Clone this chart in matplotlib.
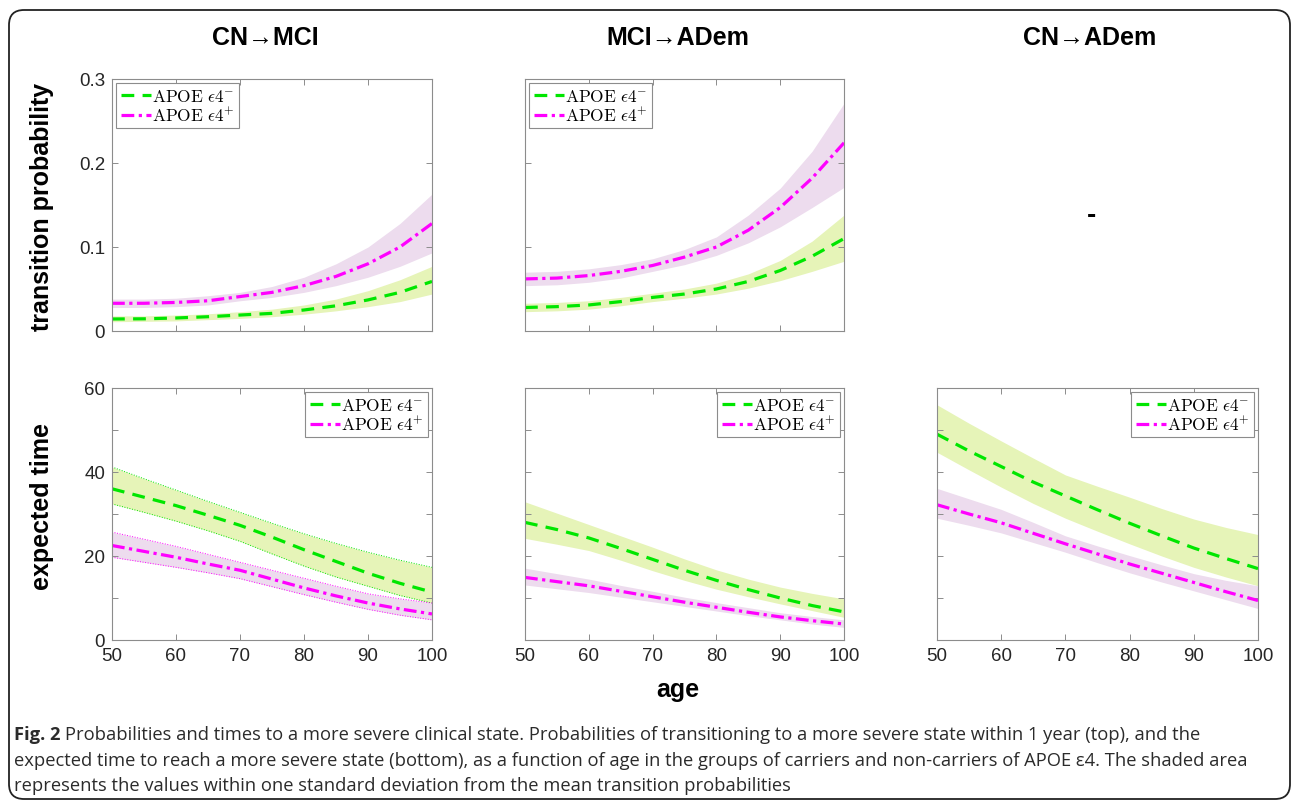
"""
Fig. 2: transition probabilities and expected times (APOE e4 carriers / non-carriers)
"""

import numpy as np
import matplotlib
matplotlib.use("Agg")
import matplotlib.pyplot as plt
from matplotlib.patches import FancyBboxPatch
from matplotlib.text import Annotation
from matplotlib.ticker import MultipleLocator

plt.rcParams["mathtext.fontset"] = "cm"
plt.rcParams["font.family"] = ["Liberation Sans", "DejaVu Sans"]

ages = [50, 55, 60, 65, 70, 75, 80, 85, 90, 95, 100]

# --- top row: 1-year transition probability ---
cn_mci_p_neg = [0.0143, 0.0145, 0.0155, 0.017, 0.019, 0.021, 0.025, 0.030, 0.037, 0.046, 0.059]
cn_mci_p_neg_lo = [0.011, 0.0115, 0.012, 0.0135, 0.015, 0.017, 0.020, 0.024, 0.029, 0.035, 0.044]
cn_mci_p_neg_hi = [0.018, 0.018, 0.019, 0.0205, 0.023, 0.026, 0.031, 0.038, 0.048, 0.061, 0.077]
cn_mci_p_pos = [0.033, 0.033, 0.034, 0.036, 0.041, 0.046, 0.054, 0.065, 0.080, 0.100, 0.128]
cn_mci_p_pos_lo = [0.028, 0.028, 0.029, 0.031, 0.036, 0.040, 0.046, 0.054, 0.064, 0.077, 0.093]
cn_mci_p_pos_hi = [0.038, 0.038, 0.039, 0.042, 0.046, 0.053, 0.064, 0.080, 0.100, 0.128, 0.163]

mci_ad_p_neg = [0.028, 0.029, 0.031, 0.035, 0.040, 0.044, 0.050, 0.059, 0.072, 0.089, 0.110]
mci_ad_p_neg_lo = [0.023, 0.024, 0.026, 0.030, 0.035, 0.039, 0.044, 0.051, 0.060, 0.071, 0.083]
mci_ad_p_neg_hi = [0.033, 0.034, 0.036, 0.040, 0.045, 0.050, 0.057, 0.068, 0.084, 0.107, 0.138]
mci_ad_p_pos = [0.062, 0.063, 0.066, 0.071, 0.078, 0.088, 0.100, 0.120, 0.147, 0.182, 0.224]
mci_ad_p_pos_lo = [0.054, 0.055, 0.058, 0.063, 0.071, 0.079, 0.090, 0.105, 0.124, 0.147, 0.171]
mci_ad_p_pos_hi = [0.070, 0.071, 0.074, 0.079, 0.086, 0.097, 0.112, 0.138, 0.170, 0.214, 0.271]

# --- bottom row: expected time (years) ---
cn_mci_t_neg = [36.0, 34.0, 32.0, 29.7, 27.3, 24.5, 21.5, 18.7, 15.9, 13.5, 11.4]
cn_mci_t_neg_lo = [32.4, 30.4, 28.3, 26.0, 23.5, 20.5, 17.6, 15.0, 12.8, 10.6, 8.8]
cn_mci_t_neg_hi = [41.2, 38.4, 35.7, 33.0, 30.4, 27.8, 25.3, 23.0, 20.9, 19.0, 17.3]
cn_mci_t_pos = [22.5, 21.1, 19.7, 18.1, 16.6, 14.5, 12.4, 10.5, 8.8, 7.4, 6.2]
cn_mci_t_pos_lo = [19.7, 18.5, 17.3, 16.0, 14.6, 12.7, 10.8, 9.0, 7.3, 5.9, 4.8]
cn_mci_t_pos_hi = [25.7, 24.0, 22.3, 20.4, 18.5, 16.6, 14.7, 12.8, 11.0, 9.8, 8.8]

mci_ad_t_neg = [28.0, 26.3, 24.3, 21.8, 19.2, 16.6, 14.2, 12.0, 10.0, 8.2, 6.7]
mci_ad_t_neg_lo = [24.2, 22.8, 21.3, 19.0, 16.5, 14.2, 12.1, 10.3, 8.6, 7.0, 5.4]
mci_ad_t_neg_hi = [32.9, 30.2, 27.5, 24.8, 22.1, 19.3, 16.7, 14.5, 12.6, 11.1, 9.8]
mci_ad_t_pos = [14.9, 13.9, 12.9, 11.6, 10.3, 9.0, 7.8, 6.6, 5.5, 4.6, 3.8]
mci_ad_t_pos_lo = [13.1, 12.2, 11.3, 10.2, 9.1, 8.0, 6.9, 5.8, 4.8, 3.8, 3.0]
mci_ad_t_pos_hi = [17.1, 15.8, 14.5, 13.0, 11.6, 10.2, 8.9, 7.7, 6.5, 5.6, 4.8]

cn_ad_t_neg = [49.0, 45.0, 41.3, 37.6, 34.3, 31.0, 27.8, 24.8, 21.9, 19.4, 17.0]
cn_ad_t_neg_lo = [44.7, 40.5, 36.4, 32.5, 29.0, 25.9, 22.9, 20.0, 17.3, 15.0, 12.9]
cn_ad_t_neg_hi = [56.0, 51.6, 47.4, 43.3, 39.3, 36.6, 34.0, 31.3, 28.8, 26.8, 25.1]
cn_ad_t_pos = [32.2, 30.0, 27.9, 25.4, 22.9, 20.5, 18.1, 15.9, 13.7, 11.5, 9.4]
cn_ad_t_pos_lo = [29.0, 27.3, 25.5, 23.2, 20.9, 18.4, 16.0, 13.8, 11.7, 9.6, 7.5]
cn_ad_t_pos_hi = [36.1, 33.6, 31.1, 28.0, 24.8, 22.4, 20.1, 17.9, 15.8, 14.2, 12.9]

col_titles = ["CN\u2192MCI", "MCI\u2192ADem", "CN\u2192ADem"]
label_neg = r"$\mathrm{APOE}\ \epsilon4^{-}$"
label_pos = r"$\mathrm{APOE}\ \epsilon4^{+}$"

caption_bold = "Fig. 2"
caption_l1 = ("Probabilities and times to a more severe clinical state. Probabilities of "
              "transitioning to a more severe state within 1 year (top), and the")
caption_l2 = ("expected time to reach a more severe state (bottom), as a function of age in "
              "the groups of carriers and non-carriers of APOE \u03b54. The shaded area")
caption_l3 = "represents the values within one standard deviation from the mean transition probabilities"

GREEN = "#00e600"
MAGENTA = "#ff00ff"
GREEN_FILL = "#e6f4b8"
MAGENTA_FILL = "#eddcee"
AX_GRAY = "#8c8c8c"


def draw_panel(ax, neg, neg_lo, neg_hi, pos, pos_lo, pos_hi, dotted_edges=False):
    ax.fill_between(ages, neg_lo, neg_hi, color=GREEN_FILL, lw=0)
    ax.fill_between(ages, pos_lo, pos_hi, color=MAGENTA_FILL, lw=0)
    if dotted_edges:
        for y in (neg_lo, neg_hi):
            ax.plot(ages, y, ":", color=GREEN, lw=0.7)
        for y in (pos_lo, pos_hi):
            ax.plot(ages, y, ":", color=MAGENTA, lw=0.7)
    l1, = ax.plot(ages, neg, color=GREEN, lw=2.3, label=label_neg)
    l1.set_dashes([4.0, 2.6])
    l2, = ax.plot(ages, pos, color=MAGENTA, lw=2.3, label=label_pos)
    l2.set_dashes([4.0, 1.4, 1.0, 1.4])
    ax.set_xlim(50, 100)
    ax.xaxis.set_major_locator(MultipleLocator(10))
    ax.tick_params(which="both", direction="in", top=True, right=True, length=4,
                   width=0.7, color=AX_GRAY, labelsize=13.5, labelcolor="#262626", pad=5)
    for s in ax.spines.values():
        s.set_color(AX_GRAY)
        s.set_linewidth(0.8)


def add_legend(ax, loc):
    ax.legend(loc=loc, fontsize=12.5, frameon=True, fancybox=False, framealpha=1,
              edgecolor=AX_GRAY, borderpad=0.25, labelspacing=0.1, handlelength=1.75,
              handletextpad=0.05, borderaxespad=0.25).get_frame().set_linewidth(0.8)


fig = plt.figure(figsize=(12.92, 8.03), dpi=100)

W, H = 1292, 803
lefts = [112, 525, 937]
widths = [320, 319, 321]
rows = [(80, 332), (389, 641)]


def make_ax(col, row):
    top, bot = rows[row]
    return fig.add_axes([lefts[col] / W, 1 - bot / H, widths[col] / W, (bot - top) / H])


top_data = [
    (cn_mci_p_neg, cn_mci_p_neg_lo, cn_mci_p_neg_hi, cn_mci_p_pos, cn_mci_p_pos_lo, cn_mci_p_pos_hi),
    (mci_ad_p_neg, mci_ad_p_neg_lo, mci_ad_p_neg_hi, mci_ad_p_pos, mci_ad_p_pos_lo, mci_ad_p_pos_hi),
]
bottom_data = [
    (cn_mci_t_neg, cn_mci_t_neg_lo, cn_mci_t_neg_hi, cn_mci_t_pos, cn_mci_t_pos_lo, cn_mci_t_pos_hi),
    (mci_ad_t_neg, mci_ad_t_neg_lo, mci_ad_t_neg_hi, mci_ad_t_pos, mci_ad_t_pos_lo, mci_ad_t_pos_hi),
    (cn_ad_t_neg, cn_ad_t_neg_lo, cn_ad_t_neg_hi, cn_ad_t_pos, cn_ad_t_pos_lo, cn_ad_t_pos_hi),
]

# top row
for c, d in enumerate(top_data):
    ax = make_ax(c, 0)
    draw_panel(ax, *d)
    ax.set_ylim(0, 0.3)
    ax.set_yticks([0, 0.1, 0.2, 0.3])
    ax.set_yticklabels(["0", "0.1", "0.2", "0.3"])
    ax.tick_params(labelbottom=False)
    if c > 0:
        ax.tick_params(labelleft=False)
    add_legend(ax, "upper left")

# empty top-right panel (only a stray mark in the original)
fig.text(1091 / W, 1 - 216 / H, "-", fontsize=20, fontweight="bold",
         ha="center", va="center")

# bottom row
for c, d in enumerate(bottom_data):
    ax = make_ax(c, 1)
    draw_panel(ax, *d, dotted_edges=(c == 0))
    ax.set_ylim(0, 60)
    ax.yaxis.set_major_locator(MultipleLocator(20))
    ax.yaxis.set_minor_locator(MultipleLocator(10))
    if c > 0:
        ax.tick_params(labelleft=False)
    add_legend(ax, "upper right")

# column titles and axis labels
for x, t in zip([265, 678, 1090], col_titles):
    fig.text(x / W, 1 - 38 / H, t, fontsize=18, fontweight="bold", ha="center", va="center")
fig.text(42 / W, 1 - 207 / H, "transition probability", fontsize=18, fontweight="bold",
         rotation=90, ha="center", va="center")
fig.text(42 / W, 1 - 507 / H, "expected time", fontsize=18, fontweight="bold",
         rotation=90, ha="center", va="center")
fig.text(678 / W, 1 - 690 / H, "age", fontsize=18, fontweight="bold", ha="center", va="center")

# caption
cap_kw = dict(fontsize=13.2, family=["Open Sans", "DejaVu Sans"], color="#2b2b2b")
t0 = fig.text(14 / W, 1 - 735 / H, caption_bold, fontweight="bold", va="center", **cap_kw)
fig.add_artist(Annotation(caption_l1, xy=(1, 0), xycoords=t0, xytext=(3, 0),
                          textcoords="offset points", va="bottom", **cap_kw))
fig.text(14 / W, 1 - 761 / H, caption_l2, va="center", **cap_kw)
fig.text(14 / W, 1 - 786 / H, caption_l3, va="center", **cap_kw)

# rounded frame around the whole figure
frame = FancyBboxPatch((0.09, 0.03), 12.81, 7.89, boxstyle="round,pad=0,rounding_size=0.15",
                       transform=fig.dpi_scale_trans, fill=False, edgecolor="#222222", lw=1.3)
fig.add_artist(frame)

fig.savefig("out.png", dpi=100)
